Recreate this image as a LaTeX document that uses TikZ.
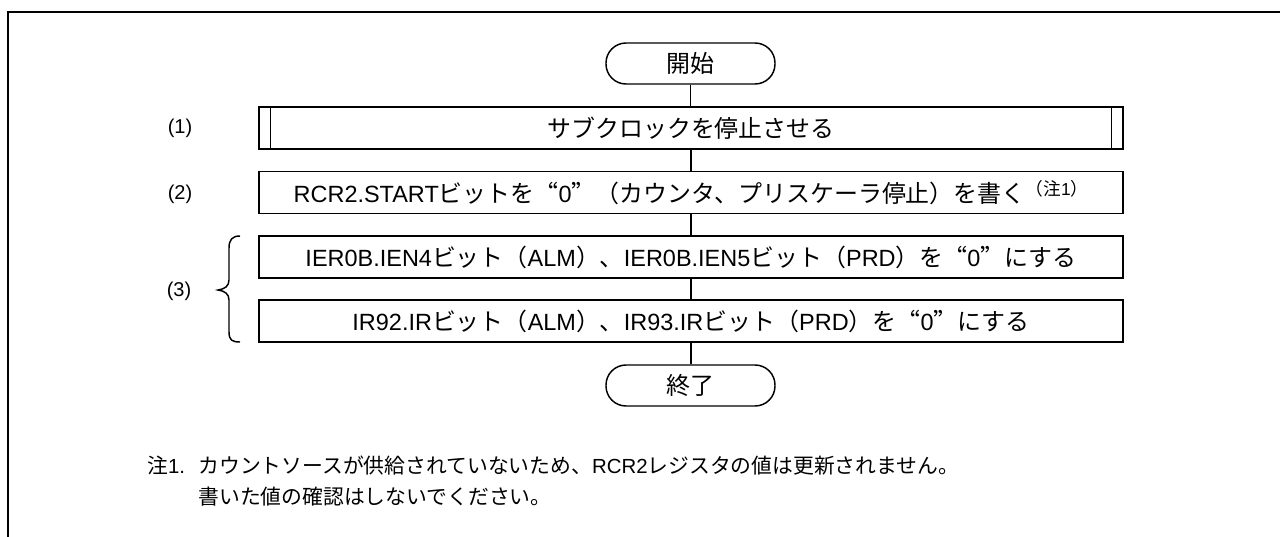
\documentclass[tikz,border=0pt]{standalone}
\usepackage{fontspec}
\setmainfont{Liberation Sans}
\newfontfamily\jpfont[Scale=1.02,RawFeature=+fwid]{Noto Sans CJK JP}
\newcommand\J[1]{{\jpfont #1}}
\newcommand\notemark{\raisebox{5pt}{\fontsize{13}{15}\selectfont\J{（注}1\J{）}}}
\newcommand\notehead{\J{注}1.\hspace{10pt}}
\begin{document}
\begin{tikzpicture}[x=0.75pt,y=-0.75pt,
  every node/.style={font=\fontsize{17.6}{20}\selectfont},
  ln/.style={line width=1.1pt},
  stepbox/.style={draw, line width=1.1pt, minimum width=648pt, minimum height=31.5pt, inner sep=0pt},
  term/.style={draw, line width=1.1pt, rounded corners=15pt, minimum width=126.75pt, minimum height=30.75pt, inner sep=0pt},
  lbl/.style={inner sep=0pt, font=\fontsize{15}{18}\selectfont},
  note/.style={anchor=west, inner sep=0pt, font=\fontsize{15.3}{18}\selectfont}]
\useasboundingbox (0,0) rectangle (1280,536);
\clip (0,0) rectangle (1280,536);
\fill[white] (0,0) rectangle (1280,536);
% frame
\draw[line width=2.2pt] (8,560) -- (8,12) -- (1300,12);
% nodes
\node[term] (start) at (690.5,63.5) {\J{開始}};
\node[stepbox] (p1) at (691,128) {\J{サブクロックを停止させる}};
\draw[ln] ([xshift=9pt]p1.north west) -- ([xshift=9pt]p1.south west);
\draw[ln] ([xshift=-9pt]p1.north east) -- ([xshift=-9pt]p1.south east);
\node[stepbox] (p2) at (691,192.5) {RCR2.START\J{ビットを“}0\J{”（カウンタ、プリスケーラ停止）を書く}\notemark};
\node[stepbox] (p3) at (691,257) {IER0B.IEN4\J{ビット（}ALM\J{）、}IER0B.IEN5\J{ビット（}PRD\J{）を“}0\J{”にする}};
\node[stepbox] (p4) at (691,321) {IR92.IR\J{ビット（}ALM\J{）、}IR93.IR\J{ビット（}PRD\J{）を“}0\J{”にする}};
\node[term] (end) at (690.5,385.5) {\J{終了}};
% connectors
\draw[ln] (start.south) -- (start.south |- p1.north);
\draw[ln] (p1.south) -- (p2.north);
\draw[ln] (p2.south) -- (p3.north);
\draw[ln] (p3.south) -- (p4.north);
\draw[ln] (p4.south) -- (end.north -| p4.south);
% labels
\node[lbl] (l1) at (180,128) {(1)};
\node[lbl] (l2) at (180,194) {(2)};
\node[lbl] (l3) at (179,291) {(3)};
% brace
\draw[ln] (240,236) .. controls (232,236) and (229,240) .. (229,248)
  -- (229,280) .. controls (229,286) and (225,289) .. (218,290)
  .. controls (225,291) and (229,294) .. (229,300)
  -- (229,332) .. controls (229,340) and (232,342) .. (240,342);
% notes
\node[note] (n1) at (147,466) {\notehead\J{カウントソースが供給されていないため、}RCR2\J{レジスタの値は更新されません。}};
\node[note] (n2) at (n1.west |- 0,497) {\phantom{\notehead}\J{書いた値の確認はしないでください。}};
\end{tikzpicture}
\end{document}
